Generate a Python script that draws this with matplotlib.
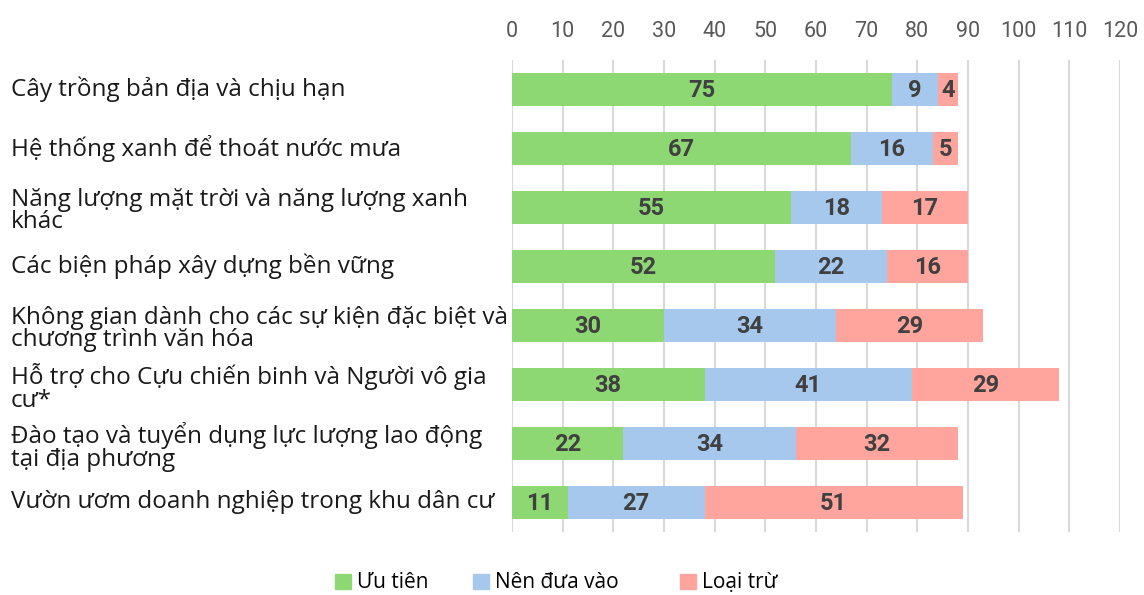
import matplotlib
matplotlib.use("Agg")
import matplotlib.pyplot as plt
import matplotlib.transforms as mtransforms
from matplotlib.patches import Patch

categories = [
    "Cây trồng bản địa và chịu hạn",
    "Hệ thống xanh để thoát nước mưa",
    "Năng lượng mặt trời và năng lượng xanh\nkhác",
    "Các biện pháp xây dựng bền vững",
    "Không gian dành cho các sự kiện đặc biệt và\nchương trình văn hóa",
    "Hỗ trợ cho Cựu chiến binh và Người vô gia\ncư*",
    "Đào tạo và tuyển dụng lực lượng lao động\ntại địa phương",
    "Vườn ươm doanh nghiệp trong khu dân cư",
]
uu_tien = [75, 67, 55, 52, 30, 38, 22, 11]
nen_dua_vao = [9, 16, 18, 22, 34, 41, 34, 27]
loai_tru = [4, 5, 17, 16, 29, 29, 32, 51]
series_names = ["Ưu tiên", "Nên đưa vào", "Loại trừ"]
colors = ["#8ED873", "#A6C8EC", "#FFA59E"]
xticks = list(range(0, 121, 10))

W, H = 1144, 595
fig = plt.figure(figsize=(W / 100, H / 100), dpi=100)
ax = fig.add_axes([512 / W, 1 - 532 / H, (1120 - 512) / W, (532 - 60) / H])

y = list(range(len(categories)))
left = [0] * len(categories)
for vals, col in zip([uu_tien, nen_dua_vao, loai_tru], colors):
    bars = ax.barh(y, vals, left=left, height=0.575, color=col, zorder=2)
    for b, v in zip(bars, vals):
        ax.text(b.get_x() + b.get_width() / 2, b.get_y() + b.get_height() / 2 + 0.02, str(v),
                ha="center", va="center", fontsize=17, fontweight="bold",
                family="Roboto", color="#404040", zorder=3)
    left = [l + v for l, v in zip(left, vals)]

ax.set_ylim(len(categories) - 0.5, -0.5)
ax.set_xlim(0, 120)
ax.set_xticks(xticks)
ax.xaxis.tick_top()
ax.tick_params(axis="x", length=0, pad=13, labelsize=15.5, labelcolor="#595959")
for t in ax.get_xticklabels():
    t.set_family("Roboto")
ax.set_yticks([])
ax.grid(axis="x", color="#D9D9D9", linewidth=1.5, zorder=0)
for s in ax.spines.values():
    s.set_visible(False)

# category labels, left aligned at the figure edge
trans = mtransforms.blended_transform_factory(fig.transFigure, ax.transData)
for i, lab in enumerate(categories):
    dy = 0.06 if "\n" in lab else 0.0
    ax.text(11 / W, i + dy, lab, transform=trans, ha="left", va="center",
            fontsize=17.5, family="Open Sans", color="#1a1a1a", linespacing=0.92)

# legend entries placed one by one to match the uneven spacing
legend_x = [335, 473, 680]
for name, col, lx in zip(series_names, colors, legend_x):
    fig.legend([Patch(color=col)], [name], loc="center left",
               bbox_to_anchor=(lx / W, 1 - 583 / H), frameon=False,
               borderpad=0, borderaxespad=0, handlelength=0.75, handleheight=0.75,
               handletextpad=0.3, prop={"family": "Open Sans", "size": 15})

fig.savefig("out.png", dpi=100)
